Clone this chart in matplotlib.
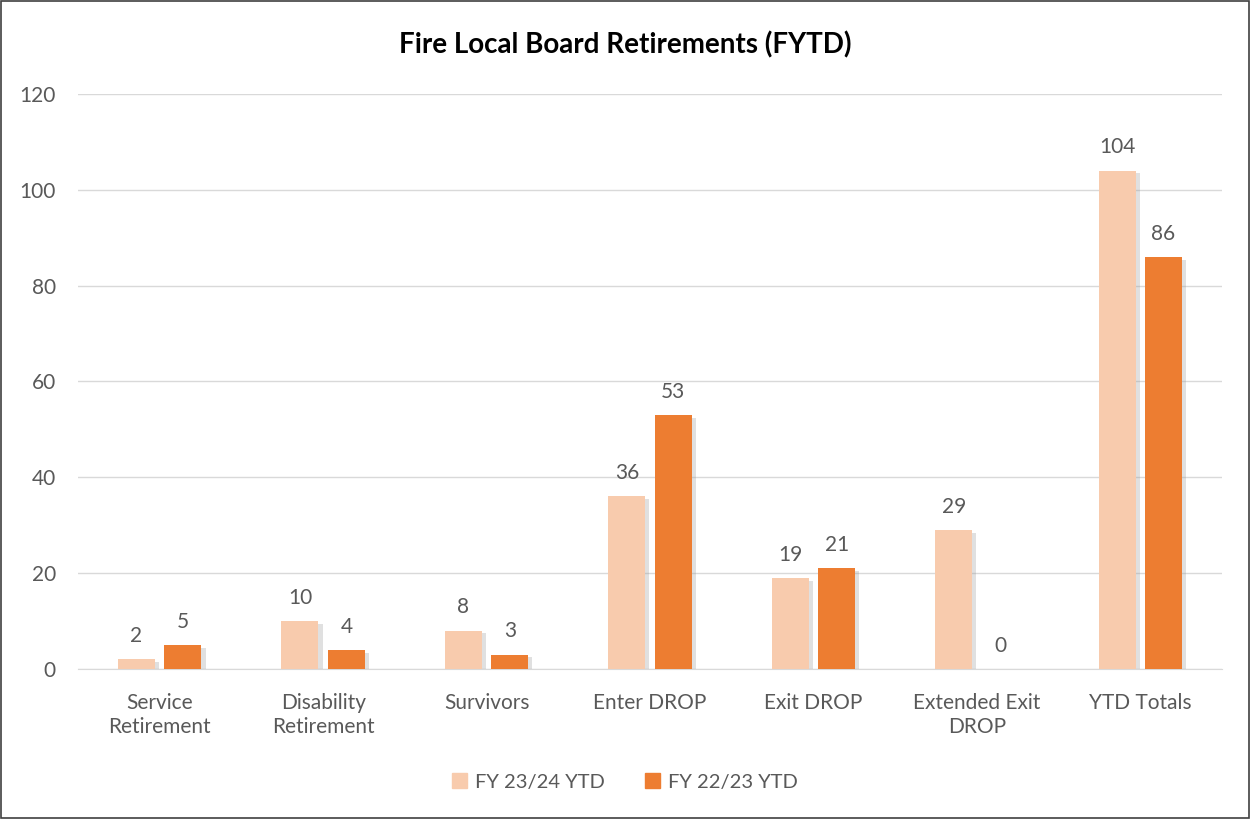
import numpy as np
import matplotlib.pyplot as plt
import matplotlib.patheffects as pe
from matplotlib.patches import Rectangle, Patch

plt.rcParams['font.family'] = ['Lato', 'DejaVu Sans']

categories = ['Service\nRetirement', 'Disability\nRetirement', 'Survivors', 'Enter DROP',
              'Exit DROP', 'Extended Exit\nDROP', 'YTD Totals']
fy_23_24 = [2, 10, 8, 36, 19, 29, 104]
fy_22_23 = [5, 4, 3, 53, 21, 0, 86]
series_names = ['FY 23/24 YTD', 'FY 22/23 YTD']

LIGHT = '#F8CBAD'
ORANGE = '#ED7D31'
TXT = '#595959'

fig = plt.figure(figsize=(12.5, 8.19), dpi=100)
ax = fig.add_axes([0.0624, 0.1832, 0.9152, 0.702])

x = np.arange(len(categories))
w = 0.226
off = 0.142
shadow = [pe.SimplePatchShadow(offset=(3, -2), shadow_rgbFace='#999999', alpha=0.3), pe.Normal()]
b1 = ax.bar(x - off, fy_23_24, w, color=LIGHT, zorder=3, path_effects=shadow)
b2 = ax.bar(x + off, fy_22_23, w, color=ORANGE, zorder=3, path_effects=shadow)

for bars, vals in ((b1, fy_23_24), (b2, fy_22_23)):
    for b, v in zip(bars, vals):
        ax.annotate(str(v), (b.get_x() + b.get_width() / 2, v), xytext=(0, 9.5),
                    textcoords='offset points', ha='center', va='bottom',
                    fontsize=15, color=TXT)

ax.set_xlim(-0.5, len(categories) - 0.5)
ax.set_ylim(0, 120)
ax.set_yticks(range(0, 121, 20))
ax.yaxis.grid(True, color='#D9D9D9', linewidth=1, zorder=0)
ax.set_axisbelow(True)
for s in ['top', 'right', 'left']:
    ax.spines[s].set_visible(False)
ax.spines['bottom'].set_color('#D9D9D9')
ax.tick_params(axis='both', length=0, colors=TXT, labelsize=15)
ax.tick_params(axis='x', pad=17)
ax.tick_params(axis='y', pad=16)
ax.set_xticks(x)
ax.set_xticklabels(categories, linespacing=1.25)

fig.text(0.5, 0.945, 'Fire Local Board Retirements (FYTD)', ha='center', va='center',
         fontsize=20, fontweight='bold', color='black')

handles = [Patch(color=LIGHT), Patch(color=ORANGE)]
leg = fig.legend(handles, series_names, loc='center', bbox_to_anchor=(0.5, 0.045), ncol=2,
                 frameon=False, fontsize=14.5, handlelength=0.75, handleheight=0.75,
                 columnspacing=2.0, handletextpad=0.4)
for t in leg.get_texts():
    t.set_color(TXT)

fig.patches.append(Rectangle((0.001, 0.001), 0.998, 0.998, transform=fig.transFigure,
                             fill=False, edgecolor='#404040', linewidth=1.2))

fig.savefig('out.png', dpi=100, facecolor='white')
